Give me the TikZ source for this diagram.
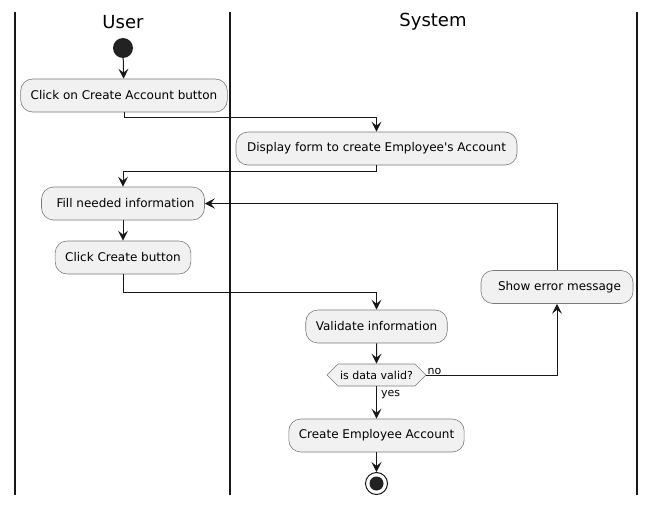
\documentclass[tikz,border=0pt]{standalone}
\usepackage{fontspec}
\setmainfont{DejaVu Sans}
\usetikzlibrary{arrows.meta,shapes.symbols,calc}
\definecolor{actfill}{HTML}{F1F1F1}
\definecolor{actline}{HTML}{181818}
\definecolor{actborder}{HTML}{7A7A7A}
\definecolor{dotfill}{HTML}{222222}
\tikzset{
  act/.style={draw=actborder, line width=0.6pt, fill=actfill, rounded corners=12pt,
    minimum height=33pt, inner xsep=10pt, inner ysep=0pt, font=\fontsize{12}{14}\selectfont},
  decis/.style={draw=actborder, line width=0.6pt, fill=actfill, shape=signal,
    signal to=east and west, signal pointer angle=90, minimum height=22pt,
    inner xsep=1pt, inner ysep=0pt, font=\fontsize{11}{13}\selectfont},
  arr/.style={draw=actline, line width=1pt, -{Stealth[length=10pt,width=10pt,inset=4pt]}},
  lane/.style={draw=actline, line width=1.6pt},
  lbl/.style={font=\fontsize{11}{13}\selectfont, inner sep=0pt},
  hdr/.style={font=\fontsize{18}{20}\selectfont, inner sep=0pt}
}
\begin{document}
\begin{tikzpicture}[x=1pt,y=-1pt]
\useasboundingbox (0,0) rectangle (656,506);
\fill[white] (0,0) rectangle (656,506);
% lanes
\coordinate (l1t) at (15,12); \coordinate (l1b) at (15,495);
\coordinate (l2t) at (230,12); \coordinate (l2b) at (230,495);
\coordinate (l3t) at (637,12); \coordinate (l3b) at (637,495);
\draw[lane] (l1t) -- (l1b);
\draw[lane] (l2t) -- (l2b);
\draw[lane] (l3t) -- (l3b);
\node[hdr] (huser) at (123,22) {User};
\node[hdr] (hsys) at (433,22) {System};
% nodes
\node[circle, fill=dotfill, minimum size=20pt, inner sep=0pt] (start) at (123,48) {};
\node[act, minimum width=206pt] (a1) at (124,95.5) {Click on Create Account button};
\node[act, minimum width=281pt] (a2) at (376.5,148.5) {Display form to create Employee\textquotesingle s Account};
\node[act, minimum width=162pt] (fill) at (123,203.5) {\hspace*{5pt}Fill needed information};
\node[act, minimum width=134pt] (click) at (123,257.5) {Click Create button};
\node[act, minimum width=152pt] (err) at (557,287) {\hspace*{5pt}Show error message};
\node[act, minimum width=139pt] (val) at (376.5,326.5) {Validate information};
\node[decis, minimum width=99pt] (dec) at (376.5,375) {is data valid?};
\node[act, minimum width=175pt] (cre) at (376.5,435.5) {Create Employee Account};
\node[circle, draw=actline, line width=1pt, fill=white, minimum size=22pt, inner sep=0pt] (stop) at (376.5,483.5) {};
\node[circle, fill=dotfill, minimum size=14pt, inner sep=0pt] (stopin) at (376.5,483.5) {};
% connectors
\draw[arr] (start) -- (a1);
\draw[arr] (a1.south) -- ++(0,5) -| (a2.north);
\draw[arr] (a2.south) -- ++(0,6) -| (fill.north);
\draw[arr] (fill) -- (click);
\draw[arr] (click.south) -- ++(0,18) -| (val.north);
\draw[arr] (val) -- (dec);
\draw[arr] (dec.east) -| (err.south);
\draw[arr] (err.north) |- (fill.east);
\draw[arr] (dec.south) -- (cre.north);
\draw[arr] (cre) -- (stop);
\node[lbl, anchor=south west] (no) at ($(dec.east)+(1,0)$) {no};
\node[lbl, anchor=west] (yes) at (381,395) {yes};
\end{tikzpicture}
\end{document}
